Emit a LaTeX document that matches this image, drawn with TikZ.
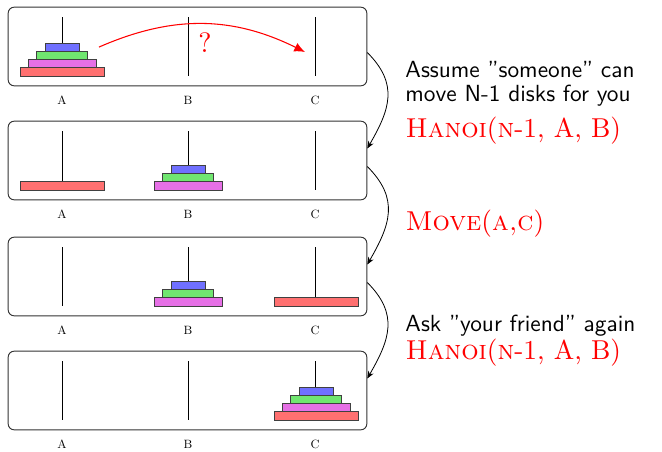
\documentclass[tikz,border=0pt]{standalone}
\usepackage{tikz}
\usetikzlibrary{calc,positioning,arrows.meta}
\definecolor{diskred}{RGB}{255,112,112}
\definecolor{diskpink}{RGB}{230,112,230}
\definecolor{diskgreen}{RGB}{112,230,112}
\definecolor{diskblue}{RGB}{112,112,255}

\begin{document}
\begin{tikzpicture}[
    x=0.75pt, y=0.75pt,
    stage/.style={draw=black!80, line width=0.7pt, rounded corners=4.5pt, minimum width=269pt, minimum height=59pt, inner sep=0pt},
    disk/.style={draw=black!75, line width=0.6pt, minimum height=6.2pt, inner sep=0pt, outer sep=0pt},
    peg/.style={line width=0.6pt},
    pegname/.style={font=\small},
    note/.style={font=\sffamily\fontsize{10}{8.4}\selectfont, scale=1.75, align=left, anchor=base west, inner sep=0pt},
    call/.style={font=\normalsize, scale=2.05, text=red, anchor=base west, inner sep=0pt},
    hop/.style={-{Latex[length=8pt,width=7pt]}, thick, draw=red},
    turn/.style={-{Stealth[length=5.5pt,width=4.5pt]}, semithick, looseness=1.2}
  ]
    \useasboundingbox (0,0) rectangle (662,-451);

    % the four states
    \node[stage] (s1) at (187.5,-46.5) {};
    \node[stage] (s2) at (187.5,-160.5) {};
    \node[stage] (s3) at (187.5,-276.5) {};
    \node[stage] (s4) at (187.5,-390.5) {};

    \foreach \s/\c in {1/-46.5,2/-160.5,3/-276.5,4/-390.5}
      \foreach \p/\x in {A/62,B/188,C/315} {
        \draw[peg] (\x,\c+29.5) -- (\x,\c-29.5);
        \node[pegname] (\p\s) at (\x,\c-53.5) {\p};
      }

    % state 1: everything on A
    \node[disk, fill=diskred, minimum width=63pt, anchor=south] (r1) at (62,-76) {};
    \node[disk, fill=diskpink, minimum width=51pt, above=0pt of r1] (p1) {};
    \node[disk, fill=diskgreen, minimum width=38pt, above=0pt of p1] (g1) {};
    \node[disk, fill=diskblue, minimum width=25.5pt, above=0pt of g1] (b1) {};

    % state 2
    \node[disk, fill=diskred, minimum width=63pt, anchor=south] (r2) at (62,-190) {};
    \node[disk, fill=diskpink, minimum width=51pt, anchor=south] (p2) at (188,-190) {};
    \node[disk, fill=diskgreen, minimum width=38pt, above=0pt of p2] (g2) {};
    \node[disk, fill=diskblue, minimum width=25.5pt, above=0pt of g2] (b2) {};

    % state 3
    \node[disk, fill=diskpink, minimum width=51pt, anchor=south] (p3) at (188,-306) {};
    \node[disk, fill=diskgreen, minimum width=38pt, above=0pt of p3] (g3) {};
    \node[disk, fill=diskblue, minimum width=25.5pt, above=0pt of g3] (b3) {};
    \node[disk, fill=diskred, minimum width=63pt, anchor=south] (r3) at (316,-306) {};

    % state 4: everything on C
    \node[disk, fill=diskred, minimum width=63pt, anchor=south] (r4) at (316,-420) {};
    \node[disk, fill=diskpink, minimum width=51pt, above=0pt of r4] (p4) {};
    \node[disk, fill=diskgreen, minimum width=38pt, above=0pt of p4] (g4) {};
    \node[disk, fill=diskblue, minimum width=25.5pt, above=0pt of g4] (b4) {};

    \coordinate (goal) at (305,-52);
    \draw[hop] ([xshift=15pt]b1.east) to[bend left=25] (goal);
    \node[red, font=\normalsize, scale=2.1] (qm) at (205,-43) {?};

    \draw[turn] ($(s1.east)+(0,-6)$) to[out=-45,in=60] ($(s2.east)+(0,12)$);
    \draw[turn] ($(s2.east)+(0,-6)$) to[out=-45,in=60] ($(s3.east)+(0,12)$);
    \draw[turn] ($(s3.east)+(0,-6)$) to[out=-45,in=60] ($(s4.east)+(0,12)$);

    \node[note] (say1) at (405,-101) {Assume ''someone'' can\\[1.5pt]move N-1 disks for you};
    \node[call] (rec1) at (405,-137) {\textsc{Hanoi}(\textsc{n}-1, A, B)};
    \node[call] (mv) at (405,-230) {\textsc{Move}(\textsc{a,c})};
    \node[note] (say2) at (405,-331) {Ask ''your friend'' again};
    \node[call] (rec2) at (405,-359) {\textsc{Hanoi}(\textsc{n}-1, A, B)};
\end{tikzpicture}
\end{document}
